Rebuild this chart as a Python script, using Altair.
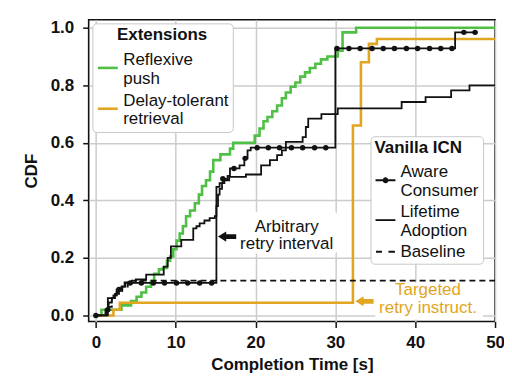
import altair as alt
import pandas as pd

FONT = "Liberation Sans"
GREEN = "#4fbf45"
ORANGE = "#e2a521"
BLACK = "#111111"
FS = 17

# ---- data (time in s, CDF) ----
green_t = [0, 0.7, 3.2, 4.4, 5.1, 5.7, 6.3, 6.9, 7.3, 7.9, 8.4, 8.9, 9.3, 9.7, 10.1, 10.5,
           10.9, 11.3, 11.8, 12.4, 12.9, 13.3, 13.8, 14.3, 14.7, 15.6, 16.8, 17.2, 19.9, 20.5,
           21.0, 21.5, 22.1, 22.7, 23.3, 23.8, 24.4, 25.0, 25.6, 26.2, 26.8, 27.5, 28.2, 29.0,
           30.3, 30.9, 32.6, 50]
green_y = [0, 0.02, 0.035, 0.05, 0.065, 0.08, 0.1, 0.12, 0.145, 0.16, 0.165, 0.19, 0.205, 0.23,
           0.26, 0.285, 0.31, 0.345, 0.365, 0.39, 0.42, 0.45, 0.47, 0.5, 0.54, 0.56, 0.58, 0.6,
           0.625, 0.65, 0.675, 0.69, 0.71, 0.73, 0.755, 0.775, 0.795, 0.81, 0.83, 0.845, 0.86,
           0.875, 0.89, 0.9, 0.92, 0.984, 1.0, 1.0]

orange_t = [0, 2.2, 3.0, 32.2, 33.2, 34.2, 35.2, 50]
orange_y = [0, 0.02, 0.044, 0.66, 0.88, 0.944, 0.961, 0.961]

aware_t = [0, 1.2, 1.6, 2.0, 2.4, 2.9, 3.3, 3.7, 15.1, 15.5, 15.9, 16.5, 16.8, 18.0, 18.6,
           19.0, 19.4, 30.0, 45.0, 47.8]
aware_y = [0, 0.02, 0.045, 0.06, 0.075, 0.09, 0.1, 0.113, 0.447, 0.46, 0.475, 0.485, 0.511,
           0.522, 0.546, 0.574, 0.583, 0.928, 0.984, 0.984]

life_t = [0, 1.5, 2.2, 2.6, 3.2, 3.6, 5.0, 6.3, 8.5, 9.0, 9.4, 10.7, 12.2, 12.6, 13.0, 13.6,
          14.25, 14.9, 15.1, 15.3, 15.5, 15.8, 16.1, 16.7, 18.8, 20.7, 21.8, 22.7, 23.3, 23.8,
          25.9, 26.3, 26.6, 28.25, 30.3, 38.3, 41.3, 44.5, 46.8, 50]
life_y = [0, 0.06, 0.07, 0.09, 0.1, 0.115, 0.125, 0.142, 0.17, 0.2, 0.24, 0.263, 0.303, 0.31,
          0.32, 0.33, 0.338, 0.345, 0.38, 0.42, 0.44, 0.46, 0.47, 0.482, 0.49, 0.522, 0.54,
          0.557, 0.574, 0.603, 0.62, 0.655, 0.684, 0.70, 0.72, 0.742, 0.759, 0.782, 0.8, 0.8]

base_t = [0, 1.3, 2.0, 2.6, 3.3, 4.0, 50]
base_y = [0, 0.03, 0.06, 0.08, 0.1, 0.121, 0.121]

dot_t = [0, 1.5, 2.9, 4.3, 5.7, 7.2, 8.6, 10.1, 11.5, 13.0, 14.5, 15.9, 17.3, 18.7, 20.2,
         21.6, 23.0, 24.5, 25.9, 27.4, 28.8, 30.2, 31.7, 33.1, 34.6, 36.0, 37.4, 38.9, 40.3,
         41.8, 43.2, 44.6, 46.1, 47.5]
dot_y = [0, 0.02, 0.09] + [0.113] * 8 + [0.475, 0.511, 0.546] + [0.583] * 7 + [0.928] * 11 + [0.984] * 2

ext_names = ["Reflexive push", "Delay-tolerant retrieval"]
van_names = ["Aware Consumer", "Lifetime Adoption", "Baseline"]

# annotations
note_label = ["Arbitrary\nretry interval", "Targeted\nretry instruct."]
note_t = [23.9, 41.6]
note_y = [0.308, 0.087]
arrow_t = [16.44, 33.65]
arrow_y = [0.274, 0.049]
box_t0 = [17.6, 35.0]
box_t1 = [30.25, 48.5]
box_y0 = [0.215, -0.014]
box_y1 = [0.36, 0.114]


def frame(name, ts, ys):
    return pd.DataFrame({"t": ts, "cdf": ys, "series": name})


ext = pd.concat([frame(ext_names[0], green_t, green_y), frame(ext_names[1], orange_t, orange_y)])
solid = pd.concat([frame(van_names[0], aware_t, aware_y), frame(van_names[1], life_t, life_y)])
dashed = frame(van_names[2], base_t, base_y)
dots = pd.DataFrame({"t": dot_t, "cdf": dot_y})
boxes = pd.DataFrame({"t": box_t0, "t1": box_t1, "cdf": box_y0, "cdf1": box_y1})
notes = pd.DataFrame({"t": note_t, "cdf": note_y, "label": note_label})
arrows = pd.DataFrame({"t": arrow_t, "cdf": arrow_y})
legend_helper = pd.DataFrame({"t": [-5.0] * 3, "cdf": [-0.5] * 3, "series": van_names})

xs = alt.Scale(domain=[-0.9, 50], nice=False, zero=False)
ys = alt.Scale(domain=[-0.021, 1.028], nice=False, zero=False)
xax = alt.Axis(values=[0, 10, 20, 30, 40, 50], format="d", title="Completion Time [s]", labelFlush=False)
yax = alt.Axis(values=[0, 0.2, 0.4, 0.6, 0.8, 1.0], format=".1f", title="CDF", labelFlush=False)


def X(f="t"):
    return alt.X(f"{f}:Q", scale=xs, axis=xax)


def Y(f="cdf"):
    return alt.Y(f"{f}:Q", scale=ys, axis=yax)


# legend symbols (shifted down so they sit between the two label lines)
SH = 0.82
R = 0.2
ext_sym = f"M-1,{SH}L1,{SH}"
aware_sym = (f"M-1,{SH}L1,{SH}M-{R},{SH}A{R},{R},0,1,1,{R},{SH}"
             f"A{R},{R},0,1,1,-{R},{SH}")
life_sym = f"M-1,{SH}L1,{SH}"
base_sym = "M-0.95,0L-0.35,0M0.3,0L0.95,0"

box_layer = alt.Chart(boxes).mark_rect(fill="white", cornerRadius=3).encode(
    x=X(), x2="t1:Q", y=Y(), y2="cdf1:Q")

ext_layer = alt.Chart(ext).mark_line(interpolate="step-after", strokeWidth=2.6).encode(
    x=X(), y=Y(), order="t:Q",
    color=alt.Color("series:N", scale=alt.Scale(domain=ext_names, range=[GREEN, ORANGE]),
                    legend=alt.Legend(
                        title="Extensions", orient="none", legendX=3.7, legendY=3.7,
                        symbolType=ext_sym, symbolSize=400, symbolStrokeWidth=2.6,
                        labelExpr="datum.label == 'Reflexive push' ? ['Reflexive', 'push'] : ['Delay-tolerant\u00a0\u00a0', 'retrieval']",
                        titleAnchor="middle", fillColor="white", strokeColor="#c8c8c8",
                        cornerRadius=4, padding=4, rowPadding=2, titlePadding=4, labelOffset=4,
                        labelLimit=400)))

solid_layer = alt.Chart(solid).mark_line(interpolate="step-after", strokeWidth=1.8, color=BLACK).encode(
    x=X(), y=Y(), order="t:Q", detail="series:N")

dashed_layer = alt.Chart(dashed).mark_line(interpolate="step-after", strokeWidth=1.8, color=BLACK,
                                           strokeDash=[6, 4]).encode(x=X(), y=Y(), order="t:Q")

dot_layer = alt.Chart(dots).mark_circle(size=30, color=BLACK, opacity=1).encode(x=X(), y=Y())

legend_layer = alt.Chart(legend_helper).mark_point(
    filled=False, color=BLACK, strokeWidth=1.8, size=400, clip=True).encode(
    x=X(), y=Y(),
    shape=alt.Shape("series:N", scale=alt.Scale(domain=van_names, range=[aware_sym, life_sym, base_sym]),
                    legend=alt.Legend(
                        title="Vanilla ICN", orient="none", legendX=283, legendY=117,
                        symbolSize=400, symbolStrokeWidth=1.8, symbolStrokeColor=BLACK,
                        symbolOpacity=1,
                        labelExpr="datum.label == 'Aware Consumer' ? ['Aware', 'Consumer\u00a0\u00a0'] : datum.label == 'Lifetime Adoption' ? ['Lifetime', 'Adoption'] : datum.label",
                        titleAnchor="start", fillColor="white", strokeColor="#c8c8c8",
                        cornerRadius=4, padding=4, rowPadding=2, titlePadding=4, labelOffset=4,
                        labelLimit=400)))

arrow_path = "M-1,0L-0.1,-0.55L-0.1,-0.27L1,-0.27L1,0.27L-0.1,0.27L-0.1,0.55Z"
arrow_black = alt.Chart(arrows.iloc[[0]]).mark_point(
    shape=arrow_path, size=335, filled=True, color=BLACK, opacity=1).encode(x=X(), y=Y())
arrow_orange = alt.Chart(arrows.iloc[[1]]).mark_point(
    shape=arrow_path, size=335, filled=True, color=ORANGE, opacity=1).encode(x=X(), y=Y())

note_black = alt.Chart(notes.iloc[[0]]).mark_text(
    lineBreak="\n", font=FONT, fontSize=FS, align="center", baseline="middle", color=BLACK,
    lineHeight=17.5).encode(x=X(), y=Y(), text="label:N")
note_orange = alt.Chart(notes.iloc[[1]]).mark_text(
    lineBreak="\n", font=FONT, fontSize=FS, align="center", baseline="middle", color=ORANGE,
    lineHeight=17.5).encode(x=X(), y=Y(), text="label:N")

chart = alt.layer(
    box_layer, ext_layer, solid_layer, dashed_layer, dot_layer, legend_layer,
    arrow_black, arrow_orange, note_black, note_orange
).properties(
    width=408, height=303,
    padding={"left": 81, "top": 11, "right": 9, "bottom": 59},
    autosize=alt.AutoSizeParams(type="none"),
).configure(font=FONT).configure_view(
    stroke=BLACK, strokeWidth=1.6
).configure_axis(
    labelFont=FONT, labelFontSize=FS, labelFontWeight="bold", labelColor=BLACK,
    titleFont=FONT, titleFontSize=FS, titleFontWeight="bold", titleColor=BLACK,
    gridColor="#cccccc", gridWidth=1.5, tickColor=BLACK, tickSize=6, tickWidth=1.5,
    domain=False
).configure_axisX(labelPadding=7, titlePadding=6).configure_axisY(
    labelPadding=9, titlePadding=10
).configure_legend(
    labelFont=FONT, labelFontSize=FS, labelColor=BLACK,
    titleFont=FONT, titleFontSize=FS, titleFontWeight="bold", titleColor=BLACK
)

chart.save("out.html", embed_options={"renderer": "svg", "actions": False})
